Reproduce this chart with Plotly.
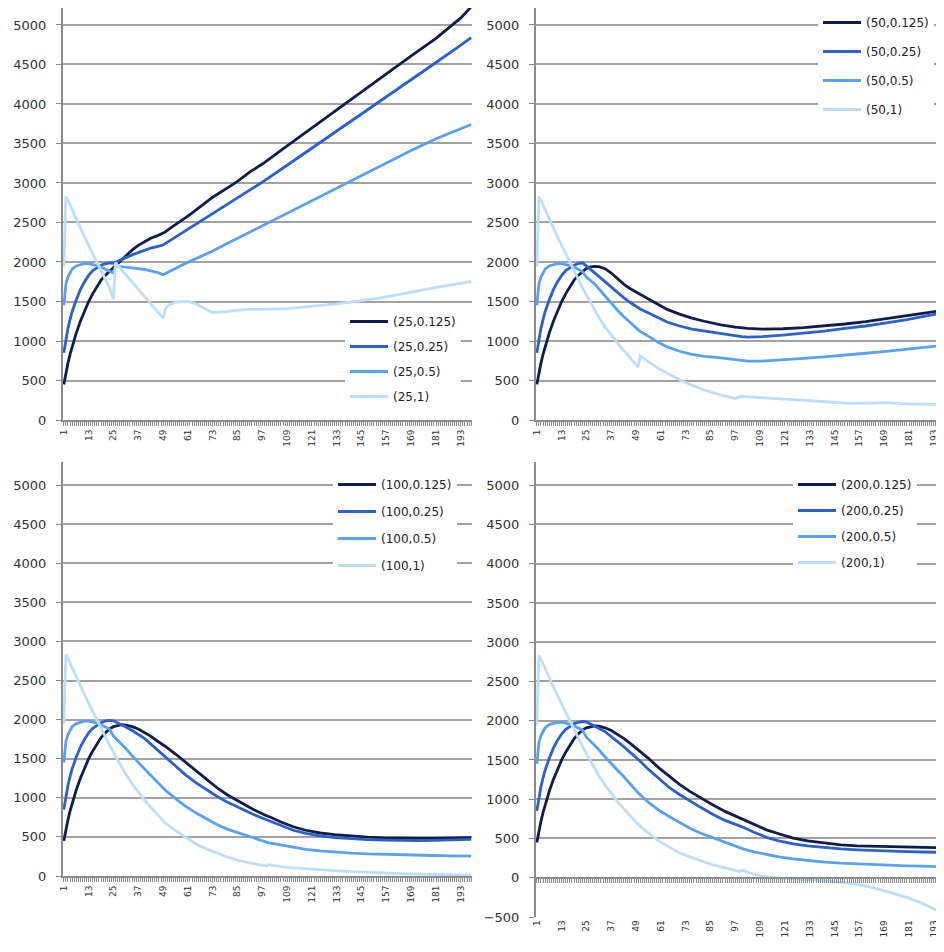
import plotly.graph_objects as go

# ---------------- data ----------------
KEYS = ["0.125", "0.25", "0.5", "1"]
COLORS = ["#0f1d4d", "#2c60ca", "#58a1f3", "#bcdef8"]

# first steps are shared by every panel
early_x = [1, 2, 3, 4, 5, 7, 9, 11, 13, 15, 17, 19, 21, 23]
early_0125 = [450, 600, 720, 830, 930, 1100, 1250, 1380, 1500, 1600, 1690, 1770, 1830, 1880]
early_025 = [850, 1010, 1160, 1270, 1370, 1520, 1650, 1750, 1830, 1890, 1930, 1960, 1980, 1990]
early_05 = [1450, 1720, 1810, 1870, 1910, 1950, 1970, 1980, 1980, 1970, 1955, 1935, 1910, 1880]
early_1 = [1940, 2830, 2780, 2720, 2660, 2540, 2430, 2320, 2210, 2100, 1990, 1880, 1780, 1680]

# panel (25, .)
p25_x = [24, 25, 26, 28, 31, 34, 37, 40, 43, 46, 48, 49, 50, 52, 55, 58, 61, 65, 69, 73,
         79, 85, 91, 97, 109, 121, 133, 145, 157, 169, 181, 193, 198]
p25_0125 = [1910, 1935, 1960, 2010, 2080, 2150, 2210, 2260, 2300, 2330, 2350, 2360, 2380, 2420, 2470,
            2520, 2580, 2660, 2740, 2820, 2920, 3020, 3140, 3240, 3470, 3700, 3930, 4160, 4390, 4610,
            4830, 5090, 5230]
p25_025 = [1990, 1985, 1995, 2020, 2055, 2090, 2120, 2150, 2175, 2195, 2208, 2215, 2232, 2265, 2314,
           2364, 2413, 2479, 2545, 2611, 2710, 2809, 2915, 3010, 3225, 3440, 3660, 3875, 4090, 4310,
           4525, 4745, 4840]
p25_05 = [1870, 1860, 1950, 1945, 1935, 1925, 1915, 1905, 1890, 1870, 1850, 1840, 1850, 1880, 1920,
          1960, 1995, 2040, 2090, 2140, 2220, 2300, 2380, 2450, 2610, 2770, 2930, 3090, 3250, 3410,
          3560, 3680, 3740]
p25_1 = [1600, 1530, 1990, 1930, 1840, 1750, 1660, 1570, 1480, 1390, 1330, 1290, 1400, 1460, 1490,
         1500, 1500, 1470, 1410, 1360, 1370, 1390, 1400, 1400, 1410, 1440, 1470, 1510, 1560, 1620,
         1680, 1730, 1755]

# panel (50, .)
p50_x = [25, 27, 29, 31, 34, 37, 40, 43, 46, 49, 50, 51, 53, 56, 60, 64, 70, 76, 82, 90,
         97, 100, 103, 110, 120, 130, 140, 150, 160, 170, 180, 190, 198]
p50_0125 = [1920, 1937, 1945, 1940, 1915, 1860, 1790, 1720, 1665, 1620, 1605, 1590, 1560, 1520, 1460,
            1400, 1340, 1290, 1250, 1203, 1175, 1165, 1160, 1150, 1155, 1170, 1190, 1215, 1245, 1280,
            1320, 1360, 1390]
p50_025 = [1950, 1905, 1860, 1815, 1745, 1675, 1610, 1550, 1490, 1435, 1420, 1405, 1380, 1345, 1290,
           1240, 1190, 1150, 1125, 1100, 1070, 1055, 1050, 1055, 1075, 1100, 1125, 1160, 1190, 1230,
           1270, 1320, 1360]
p50_05 = [1810, 1770, 1720, 1660, 1570, 1470, 1390, 1310, 1240, 1170, 1140, 1120, 1090, 1040, 980,
          925, 870, 830, 805, 785, 760, 750, 745, 745, 760, 780, 800, 820, 845, 870,
          895, 920, 945]
p50_1 = [1580, 1480, 1390, 1300, 1180, 1070, 970, 880, 790, 700, 670, 810, 770, 720, 650,
         590, 510, 440, 380, 316, 275, 300, 295, 285, 265, 250, 235, 215, 212, 220,
         205, 200, 195]

# panels (100, .) and (200, .)
p100_x = [25, 27, 29, 31, 34, 37, 40, 43, 46, 50, 55, 60, 65, 70, 75, 80, 86, 92, 99, 100,
          101, 106, 112, 118, 125, 132, 140, 148, 156, 164, 172, 180, 188, 194, 198]
p100_0125 = [1910, 1925, 1935, 1930, 1910, 1880, 1840, 1790, 1730, 1660, 1560, 1450, 1340, 1230, 1130,
             1040, 945, 860, 770, 760, 752, 690, 630, 585, 550, 530, 510, 497, 488, 482,
             480, 482, 485, 488, 490]
p100_025 = [1985, 1960, 1935, 1905, 1860, 1810, 1760, 1690, 1620, 1520, 1400, 1290, 1190, 1100, 1020,
            945, 866, 795, 720, 710, 700, 640, 585, 545, 512, 492, 475, 465, 458, 452,
            452, 455, 460, 465, 468]
p100_05 = [1790, 1740, 1690, 1630, 1540, 1450, 1370, 1290, 1210, 1100, 990, 890, 805, 730, 660,
           600, 546, 490, 430, 425, 420, 396, 365, 340, 320, 305, 292, 282, 275, 270,
           266, 262, 258, 257, 255]
p100_1 = [1580, 1480, 1390, 1300, 1180, 1070, 970, 880, 790, 680, 580, 490, 410, 345, 290,
          245, 195, 160, 125, 145, 140, 120, 105, 92, 80, 68, 55, 45, 38, 30,
          25, 20, 15, 12, 10]

p200_x = p100_x
p200_0125 = [1910, 1925, 1935, 1930, 1910, 1875, 1830, 1775, 1715, 1630, 1520, 1400, 1290, 1190, 1100,
             1020, 930, 845, 765, 755, 745, 680, 610, 560, 505, 470, 440, 418, 405, 398,
             393, 390, 386, 384, 383]
p200_025 = [1985, 1960, 1935, 1905, 1860, 1800, 1740, 1670, 1600, 1510, 1380, 1260, 1150, 1060, 975,
            900, 810, 730, 660, 650, 640, 580, 515, 470, 430, 405, 385, 367, 355, 345,
            338, 332, 328, 325, 323]
p200_05 = [1790, 1740, 1690, 1630, 1540, 1450, 1370, 1290, 1200, 1080, 960, 860, 780, 700, 630,
           570, 510, 450, 380, 372, 365, 330, 295, 265, 240, 220, 200, 185, 175, 165,
           158, 152, 147, 143, 140]
p200_1 = [1580, 1480, 1390, 1300, 1180, 1070, 970, 880, 790, 680, 570, 470, 390, 320, 265,
          215, 165, 125, 80, 95, 90, 45, 10, -5, -10, -25, -42, -55, -85, -130,
          -190, -250, -330, -410, -490]

y_ticks_top = [0, 500, 1000, 1500, 2000, 2500, 3000, 3500, 4000, 4500, 5000]
y_ticks_p4 = [-500] + y_ticks_top

# ---------------- layout helpers ----------------
OFF = 8                      # page body margin of the html page
W, H = 944 - OFF, 952 - OFF
FONT = "DejaVu Sans"
AXIS_COL = "#8c8c8c"
GRID_COL = "#a2a2a2"


def fx(p):
    return min(1.0, max(0.0, (p - OFF) / W))


def fy(p):
    return min(1.0, max(0.0, 1 - (p - OFF) / H))


panels = [
    dict(n=25, x=p25_x, ys=[p25_0125, p25_025, p25_05, p25_1],
         xd=(63, 472), yd=(8, 420), yr=[0, 5215], xr=[0.6, 198.4], ticks=y_ticks_top,
         leg=(345, 307), gap=6),
    dict(n=50, x=p50_x, ys=[p50_0125, p50_025, p50_05, p50_1],
         xd=(536, 944), yd=(8, 420), yr=[0, 5215], xr=[0.6, 197.9], ticks=y_ticks_top,
         leg=(818, 8), gap=10),
    dict(n=100, x=p100_x, ys=[p100_0125, p100_025, p100_05, p100_1],
         xd=(63, 472), yd=(462, 876), yr=[0, 5295], xr=[0.6, 198.4], ticks=y_ticks_top,
         leg=(333, 470), gap=8),
    dict(n=200, x=p200_x, ys=[p200_0125, p200_025, p200_05, p200_1],
         xd=(536, 944), yd=(462, 917.4), yr=[-505, 5295], xr=[0.6, 197.9], ticks=y_ticks_p4,
         leg=(793, 470), gap=7),
]
early_ys = [early_0125, early_025, early_05, early_1]

fig = go.Figure()
layout = dict(
    width=W, height=H,
    margin=dict(l=0, r=0, t=0, b=0),
    paper_bgcolor="white", plot_bgcolor="white",
    font=dict(family=FONT, size=12, color="#333333"),
)

for i, p in enumerate(panels):
    k = i + 1
    sfx = "" if k == 1 else str(k)
    legname = "legend" if k == 1 else f"legend{k}"
    xs = early_x + p["x"]
    for j in range(4):
        fig.add_trace(go.Scatter(
            x=xs, y=early_ys[j] + p["ys"][j], mode="lines",
            name=f"({p['n']},{KEYS[j]})",
            line=dict(color=COLORS[j], width=2.8),
            xaxis=f"x{sfx}", yaxis=f"y{sfx}",
            legend=legname, legendgroup=f"g{k}_{j}",
            hoverinfo="skip",
        ))
    is_p4 = (k == 4)
    layout[f"xaxis{sfx}"] = dict(
        domain=[fx(p["xd"][0]), fx(p["xd"][1])],
        anchor=f"y{sfx}", range=p["xr"],
        tick0=1, dtick=12, tickangle=-90,
        tickfont=dict(size=9, color="#333333"),
        showgrid=False, zeroline=False,
        showline=not is_p4, linecolor=AXIS_COL, linewidth=2,
        ticks="" if is_p4 else "outside", ticklen=4, tickcolor=AXIS_COL,
        minor=dict(dtick=1, ticks="" if is_p4 else "outside", ticklen=4,
                   tickcolor=AXIS_COL, showgrid=False),
        automargin=False,
    )
    layout[f"yaxis{sfx}"] = dict(
        domain=[fy(p["yd"][1]), fy(p["yd"][0])],
        anchor=f"x{sfx}", range=p["yr"],
        tickvals=p["ticks"],
        tickfont=dict(size=13, color="#333333"),
        showgrid=True, gridcolor=GRID_COL, gridwidth=1.6,
        zeroline=False,
        showline=True, linecolor=AXIS_COL, linewidth=2,
        ticks="outside", ticklen=5, tickcolor=AXIS_COL,
        ticklabelstandoff=7,
        automargin=False,
    )
    layout[legname] = dict(
        x=fx(p["leg"][0]), y=fy(p["leg"][1]), xanchor="left", yanchor="top",
        bgcolor="white", borderwidth=0, itemwidth=38,
        font=dict(family=FONT, size=12, color="#222222"),
        tracegroupgap=p["gap"], traceorder="grouped",
    )

# zero-line category axis for the (200, .) panel, drawn at value 0
p4 = panels[3]
zero_pos = fy(p4["yd"][1]) + (0 - p4["yr"][0]) / (p4["yr"][1] - p4["yr"][0]) * (
    fy(p4["yd"][0]) - fy(p4["yd"][1]))
fig.add_trace(go.Scatter(x=[None], y=[None], xaxis="x5", yaxis="y4",
                         showlegend=False, hoverinfo="skip"))
layout["xaxis5"] = dict(
    overlaying="x4", anchor="free", position=zero_pos,
    range=p4["xr"], tick0=1, dtick=12, showticklabels=False,
    showgrid=False, zeroline=False,
    showline=True, linecolor=AXIS_COL, linewidth=2,
    ticks="outside", ticklen=4, tickcolor=AXIS_COL,
    minor=dict(dtick=1, ticks="outside", ticklen=4, tickcolor=AXIS_COL, showgrid=False),
)

fig.update_layout(**layout)
fig.write_html("out.html")
